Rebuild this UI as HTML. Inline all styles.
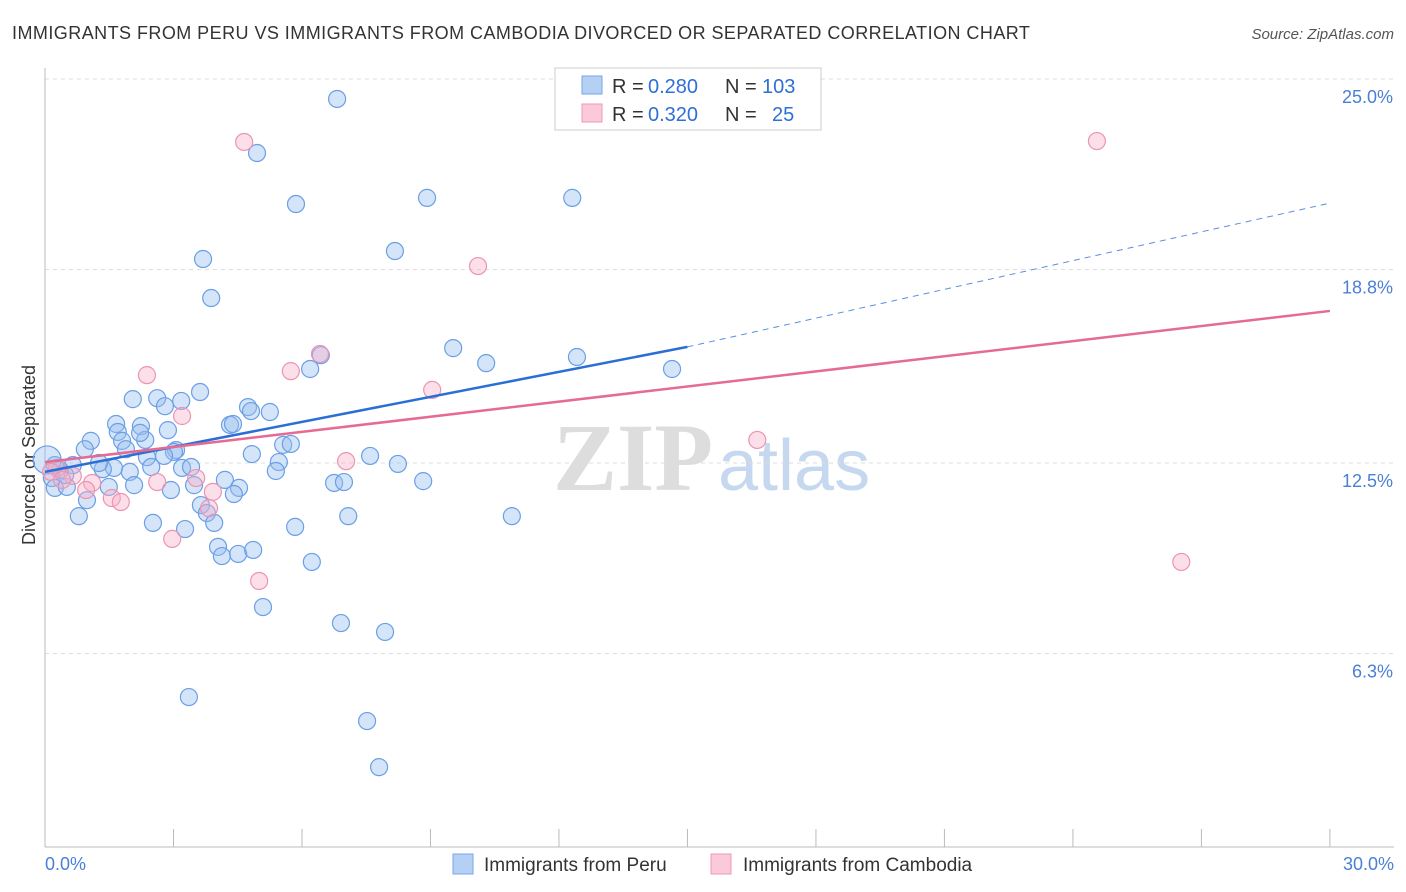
<!DOCTYPE html>
<html><head><meta charset="utf-8"><style>
body{margin:0;background:#fff;font-family:"Liberation Sans",sans-serif;}
#wrap{position:relative;width:1406px;height:892px;overflow:hidden;}
</style></head><body>
<div id="wrap">
<svg id="chart" width="1406" height="892" xmlns="http://www.w3.org/2000/svg">
<text x="12" y="39" font-size="18" fill="#333" letter-spacing="0.45">IMMIGRANTS FROM PERU VS IMMIGRANTS FROM CAMBODIA DIVORCED OR SEPARATED CORRELATION CHART</text>
<text x="1394" y="39" font-size="15" fill="#555" font-style="italic" text-anchor="end">Source: ZipAtlas.com</text>
<text x="35" y="455" font-size="18" fill="#333" text-anchor="middle" transform="rotate(-90 35 455)">Divorced or Separated</text>
<g><text x="553" y="490" font-size="96" fill="#ddd" font-family="Liberation Serif,serif" font-weight="bold">ZIP</text><text x="718" y="490" font-size="72" fill="#c5d8f0">atlas</text></g>
<g id="grid"></g><g id="axes"></g><g id="marks"></g><g id="trends"></g>
<g>
<rect x="555" y="68" width="266" height="62" fill="#fff" stroke="#ccc"/>
<rect x="582" y="76" width="20" height="18" fill="#b5d0f5" stroke="#7aa6e6"/>
<rect x="582" y="104" width="20" height="18" fill="#fbc9d8" stroke="#ee9ab5"/>
<text x="612" y="93" font-size="20" fill="#333">R =</text>
<text x="648" y="93" font-size="20" fill="#2e6fd8">0.280</text>
<text x="725" y="93" font-size="20" fill="#333">N =</text>
<text x="762" y="93" font-size="20" fill="#2e6fd8">103</text>
<text x="612" y="121" font-size="20" fill="#333">R =</text>
<text x="648" y="121" font-size="20" fill="#2e6fd8">0.320</text>
<text x="725" y="121" font-size="20" fill="#333">N =</text>
<text x="772" y="121" font-size="20" fill="#2e6fd8">25</text>
</g>
<g>
<rect x="453" y="854" width="20" height="20" fill="#b5d0f5" stroke="#7aa6e6"/>
<text x="484" y="871" font-size="19" fill="#333">Immigrants from Peru</text>
<rect x="711" y="854" width="20" height="20" fill="#fbc9d8" stroke="#ee9ab5"/>
<text x="743" y="871" font-size="19" fill="#333">Immigrants from Cambodia</text>
</g>
</svg>
</div>
<script>
const peruX=[6.82,4.95,5.86,8.92,12.31,8.17,3.69,3.88,9.53,10.30,12.42,14.64,6.19,6.44,3.62,2.05,2.62,3.18,2.80,4.74,4.81,5.25,4.32,4.39,1.66,1.70,2.24,2.87,1.07,1.80,1.89,2.34,2.22,3.06,3.01,2.78,2.38,5.56,5.74,4.83,7.59,8.24,5.46,5.39,3.20,3.41,2.48,1.98,1.61,1.35,1.26,0.93,0.65,0.35,0.23,0.16,0.23,0.51,0.47,0.35,0.98,0.79,1.49,2.08,2.94,3.48,4.20,4.53,4.41,3.64,3.78,3.95,3.27,2.52,5.84,6.75,6.98,7.08,8.83,10.90,4.04,4.13,4.51,4.86,6.23,5.09,6.91,7.94,3.36,7.52,7.80];
const peruY=[24.35,22.59,20.93,21.13,21.13,19.40,19.14,17.87,16.24,15.75,15.95,15.56,15.56,16.01,14.81,14.58,14.61,14.52,14.35,14.32,14.19,14.16,13.74,13.77,13.77,13.51,13.70,13.57,13.22,13.22,12.95,13.25,13.48,12.92,12.86,12.73,12.69,13.09,13.12,12.79,12.73,12.47,12.53,12.24,12.34,12.37,12.37,12.21,12.34,12.30,12.50,12.95,12.43,12.27,12.43,12.01,11.69,11.72,12.11,11.20,11.29,10.77,11.72,11.78,11.62,11.78,11.95,11.69,11.49,11.13,10.87,10.55,10.35,10.55,10.42,11.85,11.88,10.77,11.91,10.77,9.77,9.47,9.54,9.67,9.28,7.81,7.29,7.00,4.88,4.10,2.60];
const cambX=[4.65,24.56,10.11,6.42,5.74,2.38,9.04,3.20,16.63,7.03,0.28,0.14,0.65,0.40,1.10,0.96,2.62,1.56,1.77,3.92,3.83,2.97,5.00,26.53,3.53];
const cambY=[22.95,22.98,18.91,16.05,15.49,15.36,14.88,14.03,13.25,12.56,12.34,12.21,12.08,11.95,11.85,11.62,11.88,11.36,11.23,11.56,11.03,10.03,8.66,9.28,12.01];
const yTicks=[25.0,18.8,12.5,6.3];
const yTickLabels=["25.0%","18.8%","12.5%","6.3%"];
const xTicks=[0,3,6,9,12,15,18,21,24,27,30];
const peruTrend=[12.21,16.28,20.96];
const cambTrend=[12.53,17.45];
const NS="http://www.w3.org/2000/svg";
const X=v=>45+v*42.83, Y=v=>847-v*30.72;
function mk(tag,attrs,parent){const e=document.createElementNS(NS,tag);for(const k in attrs)e.setAttribute(k,attrs[k]);document.getElementById(parent).appendChild(e);return e;}
yTicks.forEach((t,i)=>{
 const g=mk('line',{x1:45,x2:1394,y1:Y(t),y2:Y(t),stroke:'#ddd','stroke-dasharray':'4,4'},'grid');
 
 
 const l=mk('text',{x:1393,y:Y(t)+24,'font-size':18,fill:'#4a7fd6','text-anchor':'end'},'axes');
 l.textContent=yTickLabels[i];
 
 
});
const ax=mk('line',{x1:45,x2:1394,y1:847,y2:847,stroke:'#bbb'},'axes');


const ay=mk('line',{x1:45,x2:45,y1:68,y2:847,stroke:'#bbb'},'axes');


xTicks.forEach(t=>{
 const tk=mk('line',{x1:X(t),x2:X(t),y1:829,y2:847,stroke:'#bbb'},'axes');
 
 
});
const xl0=mk('text',{x:45,y:870,'font-size':18,fill:'#4a7fd6'},'axes');xl0.textContent='0.0%';


const xl1=mk('text',{x:1394,y:870,'font-size':18,fill:'#4a7fd6','text-anchor':'end'},'axes');xl1.textContent='30.0%';


peruX.forEach((x,i)=>{
 const c=mk('circle',{cx:X(x),cy:Y(peruY[i]),r:(i===59?0:8.5),fill:'rgba(150,190,240,0.4)',stroke:'#6a9fe6','stroke-width':1.2},'marks');
 
 
});
const big=mk('circle',{cx:X(0.05),cy:Y(12.6),r:14,fill:'rgba(150,190,240,0.4)',stroke:'#6a9fe6','stroke-width':1.2},'marks');


cambX.forEach((x,i)=>{
 const c=mk('circle',{cx:X(x),cy:Y(cambY[i]),r:8.5,fill:'rgba(248,175,200,0.4)',stroke:'#ec94b2','stroke-width':1.2},'marks');
 
 
});
const t1=mk('line',{x1:X(0),y1:Y(peruTrend[0]),x2:X(15),y2:Y(peruTrend[1]),stroke:'#2a6fd6','stroke-width':2.5},'trends');


const t2=mk('line',{x1:X(15),y1:Y(peruTrend[1]),x2:X(30),y2:Y(peruTrend[2]),stroke:'#5a8fe0','stroke-width':1,'stroke-dasharray':'6,5'},'trends');


const t3=mk('line',{x1:X(0),y1:Y(cambTrend[0]),x2:X(30),y2:Y(cambTrend[1]),stroke:'#e56a94','stroke-width':2.5},'trends');


</script>
</body></html>
